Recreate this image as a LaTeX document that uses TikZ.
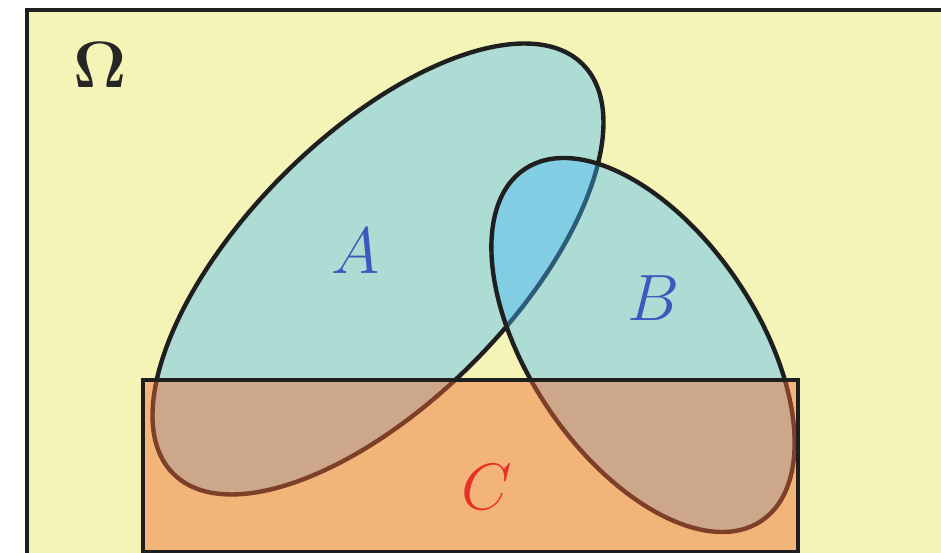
\documentclass[tikz,border=0pt]{standalone}
\usepackage{amsmath,amssymb}
\usepackage{tikz}

\begin{document}
\begin{tikzpicture}[
    setline/.style={line width=2.5pt, draw=black!88},
    setlabel/.style={font=\Huge, scale=1.5}
  ]

  % Colours of the sets
  \definecolor{cOmega}{RGB}{244,244,182}  % pale yellow
  \definecolor{cAB}{RGB}{65,185,255}      % sky blue, see-through
  \definecolor{cC}{RGB}{243,103,51}       % orange, see-through
  \definecolor{cLabAB}{RGB}{62,88,190}
  \definecolor{cLabC}{RGB}{232,48,38}

  \useasboundingbox (0,0) rectangle (18.82,11.06);
  \clip (0,0) rectangle (18.82,11.06);

  % Sample space (only its upper left corner is in view)
  \fill[white] (0,0) rectangle (18.82,11.06);
  \draw[setline, fill=cOmega] (0.54,10.86) rectangle (19.6,-0.04);

  % ---- the three sets, drawn one over the other ----
  % A (tilted up to the right)
  \draw[setline, fill=cAB, fill opacity=0.4]
    (7.56,5.68) ellipse [x radius=5.79, y radius=2.67, rotate=45];

  % B (tilted down to the right)
  \draw[setline, fill=cAB, fill opacity=0.4]
    (12.86,4.16) ellipse [x radius=4.24, y radius=2.28, rotate=-56];

  % C (rectangle at the bottom)
  \draw[setline, fill=cC, fill opacity=0.45] (2.86,3.46) rectangle (15.96,0.01);

  % Labels
  \node[setlabel, text=black!85, font=\Huge\boldmath]
    (lOmega) at (2.0,9.76) {$\Omega$};
  \node[setlabel, text=cLabAB] (lA) at (7.12,6.04) {$A$};
  \node[setlabel, text=cLabAB] (lB) at (13.08,5.10) {$B$};
  \node[setlabel, text=cLabC] (lC) at (9.74,1.32) {$C$};

\end{tikzpicture}
\end{document}
